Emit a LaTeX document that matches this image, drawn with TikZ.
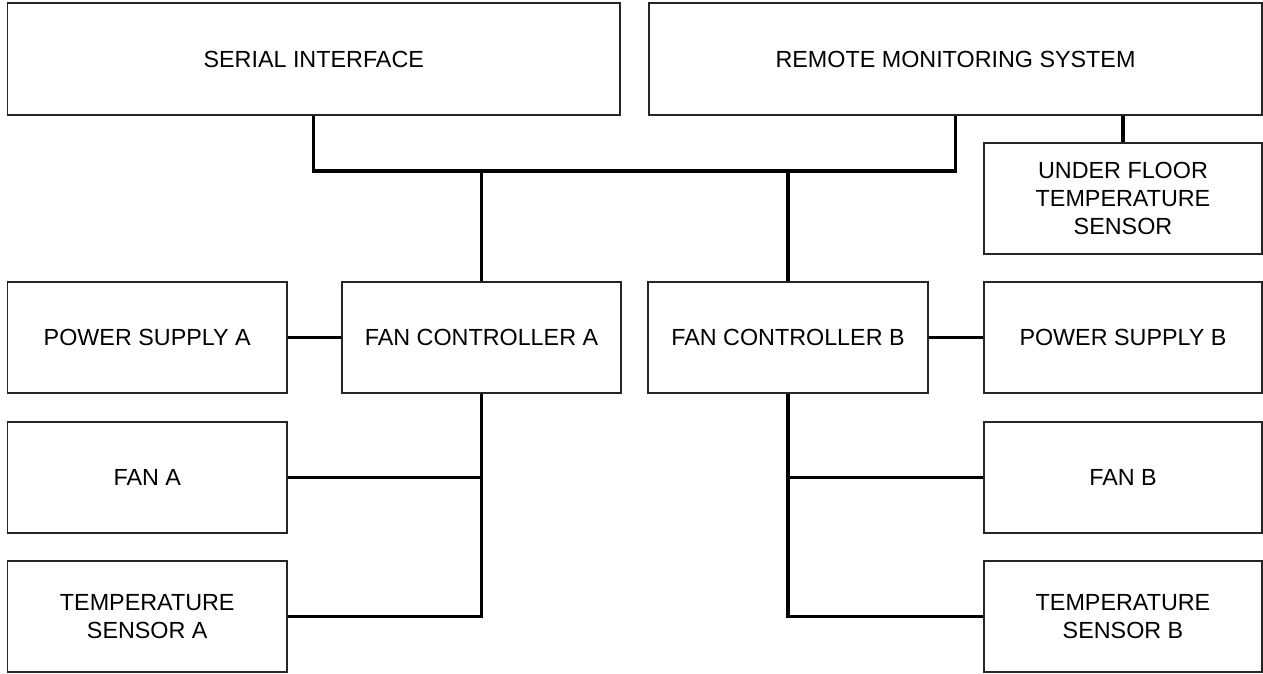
\documentclass[tikz,border=0pt]{standalone}
\usepackage{fontspec}
\setmainfont{Liberation Sans}
\begin{document}
\begin{tikzpicture}[x=0.75pt,y=-0.75pt,
  box/.style={draw=black!85, line width=0.9pt, inner sep=0pt, align=center,
    font=\fontsize{17.5}{21}\selectfont},
  sz/.style 2 args={minimum width=#1*0.75pt, minimum height=#2*0.75pt},
  wire/.style={line width=2.6pt, black}]
\useasboundingbox (0,0) rectangle (1263,674);
\node[box, sz={612.5}{112}] (ser) at (313.75,59) {SERIAL INTERFACE};
\node[box, sz={613}{112}] (rem) at (955.5,59) {REMOTE MONITORING SYSTEM};
\node[box, sz={278}{111}] (uf) at (1123,198.5) {UNDER FLOOR\\TEMPERATURE\\SENSOR};
\node[box, sz={279.5}{111}] (psa) at (147.25,337.5) {POWER SUPPLY A};
\node[box, sz={279}{111}] (fca) at (481.5,337.5) {FAN CONTROLLER A};
\node[box, sz={280}{111}] (fcb) at (788,337.5) {FAN CONTROLLER B};
\node[box, sz={278}{111}] (psb) at (1123,337.5) {POWER SUPPLY B};
\node[box, sz={279.5}{111}] (fana) at (147.25,477.5) {FAN A};
\node[box, sz={278}{111}] (fanb) at (1123,477.5) {FAN B};
\node[box, sz={279.5}{111}] (tsa) at (147.25,616.5) {TEMPERATURE\\SENSOR A};
\node[box, sz={278}{111}] (tsb) at (1123,616.5) {TEMPERATURE\\SENSOR B};
\coordinate (bus) at (0,171);
\draw[wire] (ser.south) -- (ser.south |- bus) -- (rem.south |- bus) -- (rem.south);
\draw[wire] (fca.north) -- (fca.north |- bus);
\draw[wire] (fcb.north) -- (fcb.north |- bus);
\draw[wire] (rem.south -| uf.north) -- (uf.north);
\draw[wire] (psa.east) -- (fca.west);
\draw[wire] (fcb.east) -- (psb.west);
\draw[wire] (fca.south) -- (fca.south |- tsa.east) -- (tsa.east);
\draw[wire] (fana.east) -- (fana.east -| fca.south);
\draw[wire] (fcb.south) -- (fcb.south |- tsb.west) -- (tsb.west);
\draw[wire] (fanb.west) -- (fanb.west -| fcb.south);
\end{tikzpicture}
\end{document}
